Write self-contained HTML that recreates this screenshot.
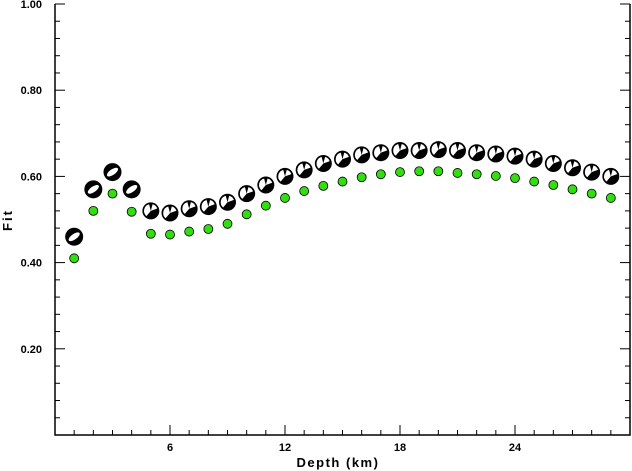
<!DOCTYPE html>
<html><head><meta charset="utf-8"><style>
html,body{margin:0;padding:0;background:#fff;}
svg{display:block;font-family:"Liberation Sans",Arial,sans-serif;}
</style></head><body>
<svg id="chart" width="632" height="471" viewBox="0 0 632 471" xmlns="http://www.w3.org/2000/svg">
<g id="axes"></g>
<g id="marks"></g>
<text x="338" y="467" text-anchor="middle" font-size="13" font-weight="bold" letter-spacing="1.5">Depth (km)</text>
<text transform="translate(12,220) rotate(-90)" text-anchor="middle" font-size="13" font-weight="bold" letter-spacing="2">Fit</text>
</svg>
<script>
const depths=[1,2,3,4,5,6,7,8,9,10,11,12,13,14,15,16,17,18,19,20,21,22,23,24,25,26,27,28,29];
const mechFit=[0.46,0.57,0.61,0.57,0.52,0.515,0.525,0.53,0.54,0.56,0.58,0.60,0.615,0.63,0.64,0.65,0.655,0.66,0.66,0.662,0.66,0.655,0.652,0.647,0.64,0.63,0.62,0.61,0.60];
const greenFit=[0.41,0.52,0.56,0.518,0.467,0.465,0.472,0.478,0.49,0.512,0.532,0.55,0.566,0.578,0.588,0.598,0.605,0.61,0.612,0.612,0.608,0.605,0.601,0.596,0.588,0.58,0.57,0.56,0.55];
const xTickLabels=[6,12,18,24];
const yTickLabels=[0.20,0.40,0.60,0.80,1.00];
const NS="http://www.w3.org/2000/svg";
const L=55,R=630,T=4,B=435;
const xs=d=>L+(d-0)*(R-L)/30;
const ys=v=>B-v*(B-T);
function mk(tag,parent,attrs){const e=document.createElementNS(NS,tag);for(const k in attrs)e.setAttribute(k,attrs[k]);parent.appendChild(e);return e;}
function sector(r,a1,a2){const p=a=>[r*Math.cos(a*Math.PI/180),r*Math.sin(a*Math.PI/180)];const [x1,y1]=p(a1),[x2,y2]=p(a2);return `M0,0 L${x1},${y1} A${r},${r} 0 ${(a2-a1)>180?1:0} 1 ${x2},${y2} Z`;}
const ax=document.getElementById('axes');
let e;
e=mk('path',ax,{d:`M${L},${T} L${L},${B} L${R},${B} L${R},${T}`,fill:'none',stroke:'#000','stroke-width':1.5});


for(let d=1;d<30;d++){const maj=d%6===0;
 e=mk('line',ax,{x1:xs(d),x2:xs(d),y1:B,y2:B-(maj?10:5),stroke:'#000'});
 
 }
xTickLabels.forEach(v=>{e=mk('text',ax,{x:xs(v),y:B+16,'text-anchor':'middle','font-size':11,'font-weight':'bold'});e.textContent=v;
 
 });
for(let i=1;i<=25;i++){const v=i*0.04;const maj=i%5===0;
 [[L,1],[R,-1]].forEach(([x0,s])=>{e=mk('line',ax,{x1:x0,x2:x0+s*(maj?10:5),y1:ys(v),y2:ys(v),stroke:'#000'});
 
 });}
yTickLabels.forEach(v=>{e=mk('text',ax,{x:L-13,y:ys(v)+4,'text-anchor':'end','font-size':11,'font-weight':'bold'});e.textContent=v.toFixed(2);
 
 });
const mg=document.getElementById('marks');
depths.forEach((d,i)=>{
 const cx=xs(d),cy=ys(greenFit[i]);
 e=mk('circle',mg,{cx:cx,cy:cy,r:4.5,fill:'#33dd11',stroke:'#000','stroke-width':0.8});
 
 
});
depths.forEach((d,i)=>{
 const cx=xs(d),cy=ys(mechFit[i]);
 const g=mk('g',mg,{transform:`translate(${cx},${cy})`});
 
 
 if(d<=4){
  mk('circle',g,{r:9,fill:'#000'});
  mk('ellipse',g,{rx:6.5,ry:2.8,fill:'#fff',transform:'rotate(-35)'});
 } else {
  mk('circle',g,{r:8.5,fill:'#000'});
  mk('path',g,{d:sector(6.8,130,255),fill:'#fff'});
  mk('path',g,{d:sector(6.8,285,340),fill:'#fff'});
 }
});
</script>
</body></html>
